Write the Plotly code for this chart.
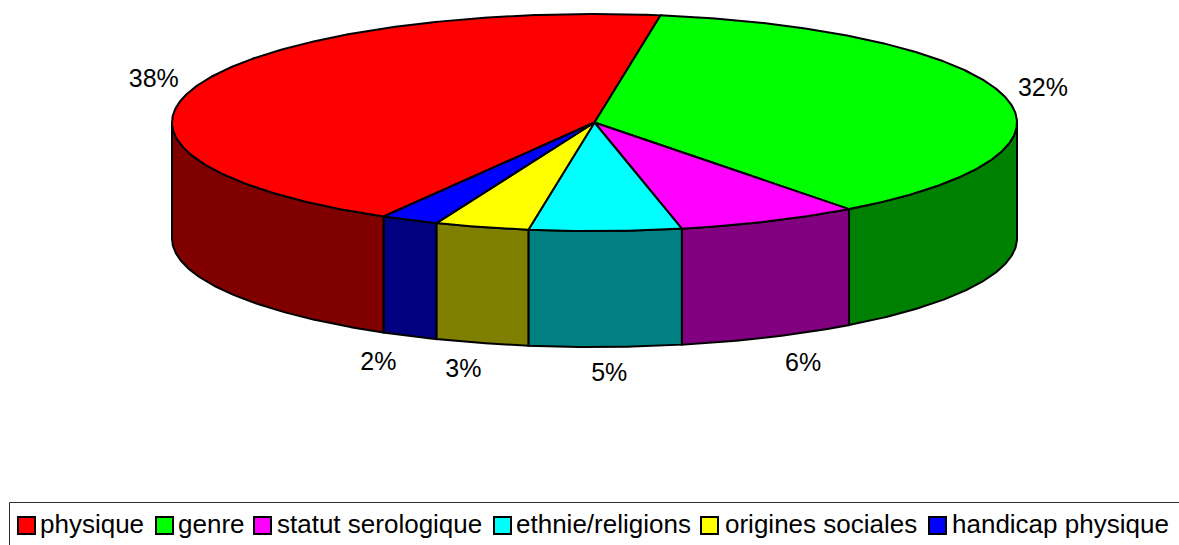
import numpy as np
import plotly.graph_objects as go

categories = ["physique", "genre", "statut serologique", "ethnie/religions", "origines sociales", "handicap physique"]
values = [38, 32, 6, 5, 3.1, 1.9]
tick_labels = ["38%", "32%", "6%", "5%", "3%", "2%"]
top_colors = ["#ff0000", "#00ff00", "#ff00ff", "#00ffff", "#ffff00", "#0000ff"]
side_colors = ["#800000", "#008000", "#800080", "#008080", "#808000", "#000080"]

# Geometry of the tilted disc, in page pixels
CX, CY, RX, RY, DEPTH = 594.5, 122.5, 422.5, 108.5, 116
START = 9.0 - values[0] / sum(values) * 360  # physique ends where genre begins, clockwise


def pt(theta, dz=0.0):
    t = np.radians(theta)
    return CX + RX * np.sin(t), CY - RY * np.cos(t) + dz


def arc(a, b):
    return np.linspace(a, b, max(int(abs(b - a) * 2), 2))


fig = go.Figure()
total = sum(values)
edges = np.concatenate([[START], START + np.cumsum(values) / total * 360])
LINE = dict(color="#000000", width=2)

# Visible outer wall: only the front half of the rim (90 to 270 degrees)
for i, cat in enumerate(categories):
    for shift in (-360, 0, 360):
        a = max(edges[i] + shift, 90)
        b = min(edges[i + 1] + shift, 270)
        if b <= a:
            continue
        th = arc(a, b)
        x1, y1 = pt(th)
        x2, y2 = pt(th[::-1], DEPTH)
        fig.add_trace(go.Scatter(
            x=np.r_[x1, x2, x1[0]], y=np.r_[y1, y2, y1[0]], mode="lines",
            fill="toself", fillcolor=side_colors[i], line=LINE,
            hoverinfo="skip", showlegend=False))

# Top face of every slice
for i, cat in enumerate(categories):
    th = arc(edges[i], edges[i + 1])
    x, y = pt(th)
    fig.add_trace(go.Scatter(
        x=np.r_[CX, x, CX], y=np.r_[CY, y, CY], mode="lines",
        fill="toself", fillcolor=top_colors[i], line=LINE,
        name=cat, text=f"{cat}: {tick_labels[i]}", hoverinfo="text", showlegend=False))

# Percentage labels placed from each slice's mid angle
mid = (edges[:-1] + edges[1:]) / 2
lx, ly = [], []
for m in mid:
    x, y = pt(m)
    front = np.cos(np.radians(m)) < -0.5
    scale = 1.18 if front else 1.10
    lx.append(CX + (x - CX) * scale + (2 if front else -2.5))
    ly.append(y + DEPTH + 28 if front else y - 6)
fig.add_trace(go.Scatter(
    x=lx, y=ly, mode="text", text=tick_labels, textposition="middle center",
    textfont=dict(family="Liberation Sans", size=25, color="#000000"),
    hoverinfo="skip", showlegend=False))

# Legend box: swatch left edge and text left edge for each entry
LEG_SWATCH = [18, 156, 254, 494, 701, 929]
LEG_TEXT = [40, 178, 277, 516, 725, 952]
shapes = [dict(type="rect", xref="x", yref="y", x0=9.5, x1=1200, y0=502.5, y1=570,
               line=dict(color="#303030", width=1), fillcolor="rgba(0,0,0,0)", layer="below")]
annotations = []
for i, cat in enumerate(categories):
    shapes.append(dict(type="rect", xref="x", yref="y",
                       x0=LEG_SWATCH[i], x1=LEG_SWATCH[i] + 17, y0=517, y1=534,
                       fillcolor=top_colors[i], line=dict(color="#000000", width=2)))
    annotations.append(dict(x=LEG_TEXT[i], y=524, xref="x", yref="y", text=cat, showarrow=False,
                            xanchor="left", yanchor="middle", xshift=-2,
                            font=dict(family="Liberation Sans", size=26, color="#000000")))

fig.update_layout(
    width=1179, height=545, margin=dict(l=0, r=0, t=0, b=0, pad=0),
    paper_bgcolor="#ffffff", plot_bgcolor="#ffffff", showlegend=False,
    xaxis=dict(range=[0, 1179], visible=False, fixedrange=True),
    yaxis=dict(range=[545, 0], visible=False, fixedrange=True),
    shapes=shapes, annotations=annotations,
)
fig.write_html("out.html", config={"displayModeBar": False},
               post_script="document.documentElement.style.overflow='hidden';document.body.style.margin='0';")
